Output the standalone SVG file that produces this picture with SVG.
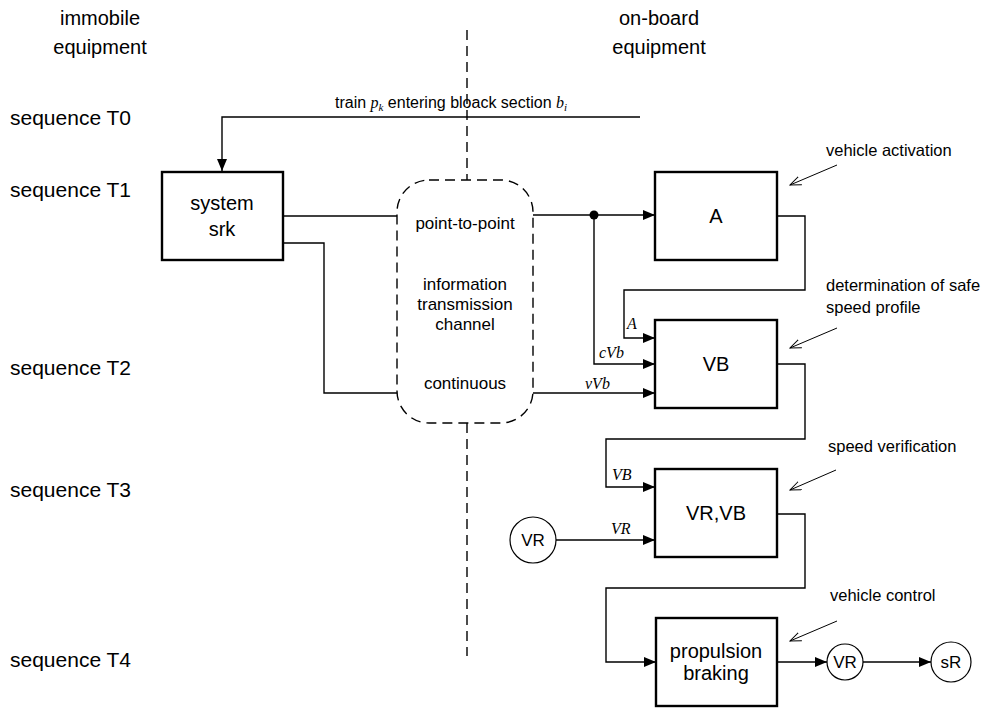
<svg xmlns="http://www.w3.org/2000/svg" width="990" height="708" viewBox="0 0 990 708">
<style>
text{font-family:"Liberation Sans",Arial,sans-serif;fill:#000}
.seq{font-size:21px}
.head{font-size:20px;text-anchor:middle}
.box{fill:#fff;stroke:#000;stroke-width:2.4}
.bt{font-size:20px;text-anchor:middle}
.ch{font-size:17px;text-anchor:middle}
.ann{font-size:16.5px}
.it{font-family:"Liberation Serif","Times New Roman",serif;font-style:italic;font-size:16px}
.ln{fill:none;stroke:#000;stroke-width:1.4}
.ar{fill:none;stroke:#000;stroke-width:1;marker-end:url(#open)}
.circ{fill:#fff;stroke:#000;stroke-width:1.2}
.dash{fill:none;stroke:#000;stroke-width:1.4;stroke-dasharray:10 6}
</style>
<defs>
<marker id="tri" viewBox="0 0 12 10" refX="12" refY="5" markerWidth="12" markerHeight="10" markerUnits="userSpaceOnUse" orient="auto">
<path d="M0,0 L12,5 L0,10 Z" fill="#000"/>
</marker>
<marker id="open" viewBox="0 0 12 10" refX="11" refY="5" markerWidth="12" markerHeight="10" markerUnits="userSpaceOnUse" orient="auto">
<path d="M0,0.5 L11,5 L0,9.5" fill="none" stroke="#000" stroke-width="1"/>
</marker>
</defs>
<rect width="990" height="708" fill="#fff"/>

<g id="headings">
<text class="head" x="100" y="25">immobile</text>
<text class="head" x="100" y="54">equipment</text>
<text class="head" x="659" y="25">on-board</text>
<text class="head" x="659" y="54">equipment</text>
</g>

<g id="sequences">
<text class="seq" x="10" y="125">sequence T0</text>
<text class="seq" x="10" y="197">sequence T1</text>
<text class="seq" x="10" y="375">sequence T2</text>
<text class="seq" x="10" y="497">sequence T3</text>
<text class="seq" x="10" y="667">sequence T4</text>
</g>

<g id="divider">
<path class="dash" d="M467,30 V180"/>
<path class="dash" d="M467,423 V656"/>
</g>

<g id="connectors">
<path class="ln" d="M640,117 H222 V171" marker-end="url(#tri)"/>
<path class="ln" d="M283,216 H397"/>
<path class="ln" d="M283,243 H324 V393 H397"/>
<path class="ln" d="M533,215 H655" marker-end="url(#tri)"/>
<circle cx="594" cy="215" r="4.5" fill="#000"/>
<path class="ln" d="M594,215 V364 H655" marker-end="url(#tri)"/>
<path class="ln" d="M533,393 H655" marker-end="url(#tri)"/>
<path class="ln" d="M777,216 H805 V290 H624 V338 H655" marker-end="url(#tri)"/>
<path class="ln" d="M777,364 H805 V439 H606 V487 H655" marker-end="url(#tri)"/>
<path class="ln" d="M556,540 H655" marker-end="url(#tri)"/>
<path class="ln" d="M777,514 H805 V588 H606 V662 H656" marker-end="url(#tri)"/>
<path class="ln" d="M777,662 H827" marker-end="url(#tri)"/>
<path class="ln" d="M863,662 H931" marker-end="url(#tri)"/>
<path class="ar" d="M837,165 L790,185"/>
<path class="ar" d="M837,328 L790,348"/>
<path class="ar" d="M836,470 L790,490"/>
<path class="ar" d="M837,621 L790,641"/>
</g>

<g id="connector-labels">
<text x="451" y="108" style="font-size:16px" text-anchor="middle">train <tspan class="it">p</tspan><tspan class="it" style="font-size:11px" dy="3">k</tspan><tspan dy="-3"> entering bloack section </tspan><tspan class="it">b</tspan><tspan class="it" style="font-size:11px" dy="3">i</tspan></text>
<text class="it" x="627" y="329">A</text>
<text class="it" x="599" y="358">cVb</text>
<text class="it" x="585" y="389">vVb</text>
<text class="it" x="612" y="480">VB</text>
<text class="it" x="611" y="534">VR</text>
</g>

<g id="annotations">
<text class="ann" x="826" y="156">vehicle activation</text>
<text class="ann" x="826" y="291">determination of safe</text>
<text class="ann" x="826" y="313">speed profile</text>
<text class="ann" x="828" y="452">speed verification</text>
<text class="ann" x="830" y="601">vehicle control</text>
</g>

<g id="system-srk">
<rect class="box" x="162" y="172" width="121" height="88"/>
<text class="bt" x="222" y="210">system</text>
<text class="bt" x="222" y="236">srk</text>
</g>

<g id="channel">
<rect class="dash" x="397" y="180" width="136" height="243" rx="32" ry="32"/>
<text class="ch" x="465" y="229">point-to-point</text>
<text class="ch" x="465" y="290">information</text>
<text class="ch" x="465" y="310">transmission</text>
<text class="ch" x="465" y="330">channel</text>
<text class="ch" x="465" y="389">continuous</text>
</g>

<g id="A">
<rect class="box" x="655" y="172" width="122" height="88"/>
<text class="bt" x="716" y="223">A</text>
</g>

<g id="VB">
<rect class="box" x="655" y="320" width="122" height="88"/>
<text class="bt" x="716" y="371">VB</text>
</g>

<g id="VRVB">
<rect class="box" x="655" y="469" width="122" height="88"/>
<text class="bt" x="716" y="520">VR,VB</text>
</g>

<g id="propulsion">
<rect class="box" x="656" y="618" width="121" height="88"/>
<text class="bt" x="716" y="658">propulsion</text>
<text class="bt" x="716" y="680">braking</text>
</g>

<g id="VR-in">
<circle class="circ" cx="533" cy="540" r="23"/>
<text class="bt" x="533" y="546" style="font-size:17px">VR</text>
</g>

<g id="VR-out">
<circle class="circ" cx="845" cy="662" r="18"/>
<text class="bt" x="845" y="668" style="font-size:17px">VR</text>
</g>

<g id="sR">
<circle class="circ" cx="951" cy="662" r="20"/>
<text class="bt" x="951" y="668" style="font-size:17px">sR</text>
</g>
</svg>
